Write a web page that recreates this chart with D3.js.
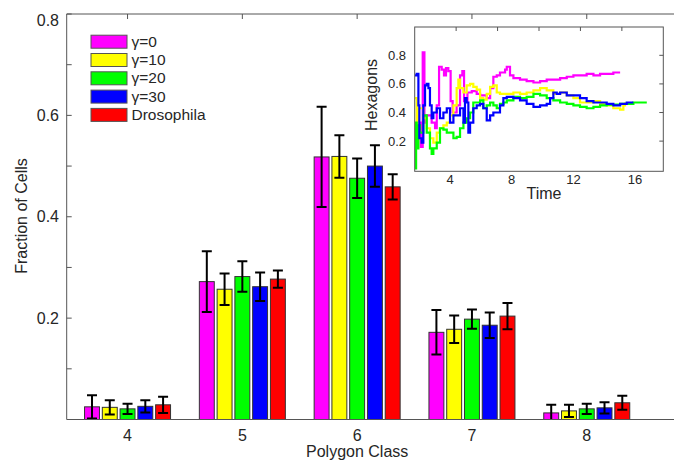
<!DOCTYPE html>
<html>
<head>
<meta charset="utf-8">
<script src="https://cdn.jsdelivr.net/npm/d3@7/dist/d3.min.js"></script>
<style>
  html, body { margin: 0; padding: 0; background: #fff; }
  svg { display: block; font-family: "Liberation Sans", Arial, sans-serif; }
</style>
</head>
<body>
<svg id="chart" width="674" height="461"></svg>
<script>
// ---------------- DATA ----------------
const categories = [4, 5, 6, 7, 8];
const seriesNames = ["γ=0", "γ=10", "γ=20", "γ=30", "Drosophila"];

const gamma0Mean  = [0.025, 0.272, 0.518, 0.172, 0.013];
const gamma0Err   = [0.023, 0.060, 0.099, 0.044, 0.016];
const gamma10Mean = [0.024, 0.257, 0.519, 0.178, 0.017];
const gamma10Err  = [0.014, 0.031, 0.042, 0.027, 0.012];
const gamma20Mean = [0.021, 0.282, 0.476, 0.198, 0.021];
const gamma20Err  = [0.010, 0.030, 0.039, 0.019, 0.010];
const gamma30Mean = [0.026, 0.262, 0.500, 0.186, 0.023];
const gamma30Err  = [0.012, 0.028, 0.041, 0.025, 0.011];
const drosMean    = [0.029, 0.277, 0.459, 0.204, 0.033];
const drosErr     = [0.016, 0.017, 0.025, 0.026, 0.014];

const yMinorTicks = [0.1, 0.2, 0.3, 0.4, 0.5, 0.6, 0.7, 0.8];
const yTickLabels = [0.2, 0.4, 0.6, 0.8];

// Inset: fraction of hexagons vs time
const hexGamma0 = [[1.95,0.33],[2.10,0.16],[2.23,0.82],[2.34,0.33],[2.49,0.38],[2.81,0.33],[3.03,0.29],[3.14,0.45],[3.29,0.72],[3.46,0.70],[3.61,0.66],[3.74,0.71],[3.89,0.69],[4.04,0.48],[4.17,0.40],[4.43,0.45],[4.65,0.66],[4.80,0.69],[4.91,0.48],[5.13,0.54],[5.41,0.55],[5.73,0.53],[5.95,0.52],[6.38,0.50],[6.60,0.57],[6.81,0.65],[7.03,0.66],[7.24,0.68],[7.57,0.70],[7.68,0.72],[7.89,0.66],[8.11,0.64],[8.54,0.63],[8.97,0.62],[9.41,0.61],[9.84,0.62],[10.27,0.63],[10.70,0.63],[11.14,0.64],[11.57,0.65],[12.00,0.66],[12.43,0.66],[12.86,0.67],[13.30,0.66],[13.73,0.67],[14.16,0.67],[14.59,0.68],[15.03,0.68]];
const hexGamma10 = [[1.73,0.50],[1.84,0.22],[1.95,0.43],[2.27,0.36],[2.49,0.29],[2.70,0.22],[2.92,0.19],[3.14,0.26],[3.35,0.29],[3.57,0.31],[3.79,0.33],[4.00,0.38],[4.22,0.45],[4.43,0.57],[4.54,0.63],[4.65,0.57],[4.87,0.54],[5.08,0.59],[5.30,0.60],[5.51,0.58],[5.73,0.56],[5.95,0.50],[6.16,0.49],[6.38,0.53],[6.60,0.58],[6.81,0.59],[7.03,0.54],[7.24,0.53],[7.68,0.53],[8.11,0.54],[8.54,0.53],[8.97,0.54],[9.41,0.555],[9.84,0.57],[10.27,0.555],[10.70,0.53],[11.14,0.54],[11.57,0.52],[12.00,0.50],[12.43,0.47],[12.86,0.47],[13.30,0.48],[13.73,0.46],[14.16,0.45],[14.59,0.43],[15.03,0.42],[15.24,0.45],[15.35,0.47]];
const hexGamma20 = [[1.73,0.01],[1.80,0.33],[1.84,0.15],[1.95,0.31],[2.06,0.26],[2.27,0.38],[2.49,0.26],[2.70,0.15],[2.81,0.11],[2.92,0.15],[3.14,0.19],[3.35,0.29],[3.57,0.28],[3.79,0.26],[4.00,0.26],[4.22,0.22],[4.43,0.23],[4.65,0.29],[4.87,0.33],[5.08,0.36],[5.30,0.40],[5.51,0.47],[5.73,0.47],[5.95,0.485],[6.16,0.43],[6.38,0.45],[6.60,0.47],[6.81,0.45],[7.03,0.43],[7.24,0.46],[7.46,0.47],[7.68,0.485],[8.11,0.51],[8.54,0.50],[8.97,0.51],[9.41,0.53],[9.84,0.52],[10.27,0.50],[10.70,0.485],[11.14,0.47],[11.57,0.46],[12.00,0.45],[12.43,0.44],[12.86,0.43],[13.30,0.44],[13.73,0.45],[14.16,0.455],[14.59,0.455],[15.03,0.46],[15.46,0.46],[15.89,0.47],[16.33,0.47],[16.76,0.47]];
const hexGamma30 = [[1.73,0.66],[1.84,0.67],[1.95,0.45],[2.01,0.22],[2.16,0.19],[2.27,0.45],[2.38,0.59],[2.49,0.60],[2.60,0.57],[2.70,0.45],[2.81,0.36],[2.92,0.40],[3.14,0.43],[3.35,0.36],[3.57,0.40],[3.79,0.43],[4.00,0.33],[4.22,0.38],[4.43,0.38],[4.65,0.43],[4.87,0.33],[4.97,0.50],[5.08,0.47],[5.19,0.26],[5.30,0.33],[5.51,0.43],[5.73,0.45],[5.95,0.46],[6.16,0.43],[6.38,0.345],[6.60,0.38],[6.81,0.40],[7.03,0.40],[7.24,0.45],[7.46,0.50],[7.68,0.51],[8.11,0.50],[8.54,0.485],[8.97,0.46],[9.41,0.44],[9.84,0.45],[10.27,0.46],[10.49,0.50],[10.70,0.54],[10.92,0.53],[11.14,0.54],[11.57,0.52],[12.00,0.52],[12.43,0.50],[12.86,0.48],[13.30,0.47],[13.73,0.47],[14.16,0.46],[14.59,0.45],[15.03,0.46],[15.46,0.47],[15.89,0.47]];

const insetXTicks = [4, 8, 12, 16];
const insetYTicks = [0.2, 0.4, 0.6, 0.8];
const insetTopTicks = [1, 2, 3, 4, 5];

// ---------------- STYLE ----------------
const colors = ["#ff00ff", "#ffff00", "#00ff00", "#0000ff", "#ff0000"];
const axisColor = "#555";
const textColor = "#262626";

const means = [gamma0Mean, gamma10Mean, gamma20Mean, gamma30Mean, drosMean];
const errs  = [gamma0Err, gamma10Err, gamma20Err, gamma30Err, drosErr];

const svg = d3.select("#chart");
const W = 674, H = 461;

// ---------------- MAIN PLOT ----------------
const plotLeft = 66.7, plotTop = 14, plotBottom = 419.5;
const x = d3.scaleLinear().domain([3.47, 8.76]).range([plotLeft, W]);
const y = d3.scaleLinear().domain([0, 0.8]).range([plotBottom, plotTop]);
const inner = d3.scaleBand().domain(d3.range(seriesNames.length)).range([-43, 43]).paddingInner(0.16);

svg.append("defs").append("clipPath").attr("id", "plotClip")
  .append("rect").attr("x", plotLeft).attr("y", plotTop)
  .attr("width", W - plotLeft).attr("height", plotBottom - plotTop);

const barData = [];
categories.forEach((c, ci) => {
  seriesNames.forEach((s, si) => {
    barData.push({ cat: c, si, mean: means[si][ci], err: errs[si][ci] });
  });
});

const gBars = svg.append("g").attr("clip-path", "url(#plotClip)");
gBars.selectAll("rect.bar").data(barData).join("rect")
  .attr("class", "bar")
  .attr("x", d => x(d.cat) + inner(d.si))
  .attr("width", inner.bandwidth())
  .attr("y", d => y(d.mean))
  .attr("height", d => y(0) - y(d.mean))
  .attr("fill", d => colors[d.si])
  .attr("stroke", "#333")
  .attr("stroke-width", 1);

const capW = 5;
const eb = gBars.selectAll("g.eb").data(barData).join("g").attr("class", "eb")
  .attr("stroke", "#000").attr("stroke-width", 2).attr("fill", "none");
eb.append("line")
  .attr("x1", d => x(d.cat) + inner(d.si) + inner.bandwidth() / 2)
  .attr("x2", d => x(d.cat) + inner(d.si) + inner.bandwidth() / 2)
  .attr("y1", d => y(d.mean - d.err)).attr("y2", d => y(d.mean + d.err));
eb.append("line")
  .attr("x1", d => x(d.cat) + inner(d.si) + inner.bandwidth() / 2 - capW)
  .attr("x2", d => x(d.cat) + inner(d.si) + inner.bandwidth() / 2 + capW)
  .attr("y1", d => y(d.mean + d.err)).attr("y2", d => y(d.mean + d.err));
eb.append("line")
  .attr("x1", d => x(d.cat) + inner(d.si) + inner.bandwidth() / 2 - capW)
  .attr("x2", d => x(d.cat) + inner(d.si) + inner.bandwidth() / 2 + capW)
  .attr("y1", d => y(d.mean - d.err)).attr("y2", d => y(d.mean - d.err));

// axes lines
const gAx = svg.append("g").attr("stroke", axisColor).attr("stroke-width", 1).attr("fill", "none");
gAx.append("line").attr("x1", plotLeft).attr("x2", plotLeft).attr("y1", plotTop).attr("y2", plotBottom);
gAx.append("line").attr("x1", plotLeft).attr("x2", W).attr("y1", plotTop).attr("y2", plotTop);
gAx.append("line").attr("x1", plotLeft).attr("x2", W).attr("y1", plotBottom).attr("y2", plotBottom);
gAx.selectAll("line.yt").data(yMinorTicks).join("line").attr("class", "yt")
  .attr("x1", plotLeft).attr("x2", plotLeft + 5)
  .attr("y1", d => y(d)).attr("y2", d => y(d));
gAx.selectAll("line.xt").data(categories).join("line").attr("class", "xt")
  .attr("x1", d => x(d)).attr("x2", d => x(d))
  .attr("y1", plotTop).attr("y2", plotTop + 5);

svg.append("g").selectAll("text").data(yTickLabels).join("text")
  .attr("x", 59).attr("y", d => Math.max(y(d), 20))
  .attr("dy", "0.35em").attr("text-anchor", "end")
  .attr("font-size", 16).attr("fill", textColor)
  .text(d => d.toFixed(1));

svg.append("g").selectAll("text").data(categories).join("text")
  .attr("x", d => x(d)).attr("y", 441)
  .attr("text-anchor", "middle")
  .attr("font-size", 16).attr("fill", textColor)
  .text(d => d);

svg.append("text").attr("x", x(6)).attr("y", 457).attr("text-anchor", "middle")
  .attr("font-size", 16).attr("fill", textColor).text("Polygon Class");
svg.append("text").attr("transform", "translate(26.5,216) rotate(-90)").attr("text-anchor", "middle")
  .attr("font-size", 16).attr("fill", textColor).text("Fraction of Cells");

// legend
const lg = svg.append("g");
const legY = d3.scaleLinear().domain([0, 1]).range([41.7, 60]);
seriesNames.forEach((s, i) => {
  lg.append("rect").attr("x", 91).attr("y", legY(i) - 6.5).attr("width", 36).attr("height", 13)
    .attr("fill", colors[i]).attr("stroke", "#555").attr("stroke-width", 1);
  lg.append("text").attr("x", 131.5).attr("y", legY(i) + 5)
    .attr("font-size", 15.5).attr("fill", textColor).text(s);
});

// ---------------- INSET ----------------
const iL = 414.7, iR = 663.3, iT = 27, iB = 171.3;
const ix = d3.scaleLinear().domain([1.71, 17.83]).range([iL, iR]);
const iy = d3.scaleLinear().domain([-0.011, 0.998]).range([iB, iT]);
const itop = d3.scaleLinear().domain([0, 6]).range([iL, iR]);

svg.append("rect").attr("x", iL).attr("y", iT).attr("width", iR - iL).attr("height", iB - iT)
  .attr("fill", "#fff");

svg.select("defs").append("clipPath").attr("id", "insetClip")
  .append("rect").attr("x", iL).attr("y", iT).attr("width", iR - iL).attr("height", iB - iT);

const line = d3.line().curve(d3.curveStepAfter).x(d => ix(d[0])).y(d => iy(d[1]));
const insetSeries = [hexGamma0, hexGamma10, hexGamma20, hexGamma30];
svg.append("g").attr("clip-path", "url(#insetClip)")
  .selectAll("path").data(insetSeries).join("path")
  .attr("d", d => line(d))
  .attr("fill", "none")
  .attr("stroke", (d, i) => colors[i])
  .attr("stroke-width", 2.2);

const gi = svg.append("g").attr("stroke", axisColor).attr("stroke-width", 1).attr("fill", "none");
gi.append("rect").attr("x", iL).attr("y", iT).attr("width", iR - iL).attr("height", iB - iT);
gi.selectAll("line.ryt").data(insetYTicks).join("line").attr("class", "ryt")
  .attr("x1", iR).attr("x2", iR - 4).attr("y1", d => iy(d)).attr("y2", d => iy(d));
gi.selectAll("line.tt").data(insetTopTicks).join("line").attr("class", "tt")
  .attr("x1", d => itop(d)).attr("x2", d => itop(d)).attr("y1", iT).attr("y2", iT + 4);

svg.append("g").selectAll("text").data(insetYTicks).join("text")
  .attr("x", 406).attr("y", d => iy(d)).attr("dy", "0.35em").attr("text-anchor", "end")
  .attr("font-size", 13).attr("fill", textColor).text(d => d.toFixed(1));
svg.append("g").selectAll("text").data(insetXTicks).join("text")
  .attr("x", d => ix(d)).attr("y", 184).attr("text-anchor", "middle")
  .attr("font-size", 13).attr("fill", textColor).text(d => d);

svg.append("text").attr("x", 544).attr("y", 199).attr("text-anchor", "middle")
  .attr("font-size", 16).attr("fill", textColor).text("Time");
svg.append("text").attr("transform", "translate(377,95) rotate(-90)").attr("text-anchor", "middle")
  .attr("font-size", 16).attr("fill", textColor).text("Hexagons");
</script>
</body>
</html>
